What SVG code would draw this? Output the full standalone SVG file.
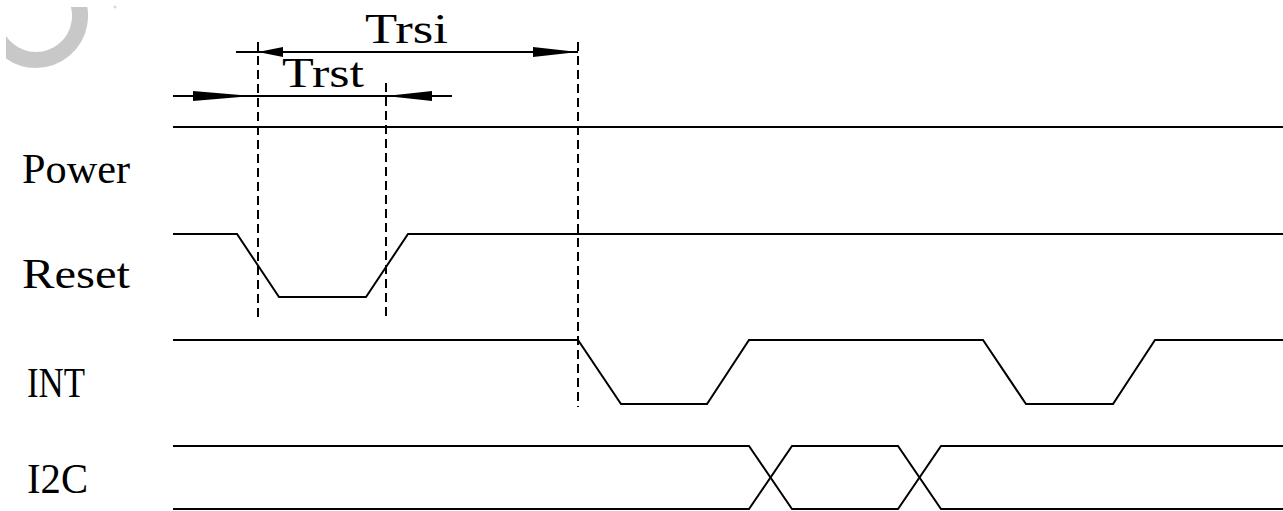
<svg xmlns="http://www.w3.org/2000/svg" width="1283" height="511" viewBox="0 0 1283 511">
<style>
.sig{fill:none;stroke:#000;stroke-width:2;stroke-linejoin:miter}
.dash{fill:none;stroke:#000;stroke-width:2;stroke-dasharray:9,5}
.dim{fill:none;stroke:#000;stroke-width:2}
.ah{fill:#000;stroke:none}
.lbl{font-family:"Liberation Serif","DejaVu Serif",serif;font-size:42px;fill:#000}
</style>
<defs>
<clipPath id="spinclip"><rect x="6" y="7" width="120" height="80"/></clipPath>
</defs>
<rect width="1283" height="511" fill="#fff"/>
<g id="spinner">
<path d="M 74.1 -6 A 44 44 0 1 1 -2.1 -6" fill="none" stroke="#c8c8c8" stroke-width="16" clip-path="url(#spinclip)"/>
<circle cx="115" cy="7" r="1.5" fill="#d8d8d8"/>
</g>
<g id="labels">
<text class="lbl" x="22" y="183" textLength="108" lengthAdjust="spacingAndGlyphs">Power</text>
<text class="lbl" x="22" y="288" textLength="108" lengthAdjust="spacingAndGlyphs">Reset</text>
<text class="lbl" x="27" y="397" textLength="58" lengthAdjust="spacingAndGlyphs">INT</text>
<text class="lbl" x="27" y="493" textLength="61" lengthAdjust="spacingAndGlyphs">I2C</text>
</g>
<g id="power"><path class="sig" d="M173 127 H1283"/></g>
<g id="reset"><path class="sig" d="M173 234 H237 L279 297 H366 L408 234 H1283"/></g>
<g id="int"><path class="sig" d="M173 340 H578 L621 404 H707 L749 340 H983 L1026 404 H1113 L1155 340 H1283"/></g>
<g id="i2c">
<path class="sig" d="M173 446 H749 L792 509 H898 L941 446 H1283"/>
<path class="sig" d="M173 509 H749 L792 446 H898 L941 509 H1283"/>
</g>
<g id="connectors">
<path class="dash" d="M258 42 V320"/>
<path class="dash" d="M386 83 V320"/>
<path class="dash" d="M578 42 V407"/>
<path class="dim" d="M236 52 H578"/>
<polygon class="ah" points="258,52 283,47 283,57"/>
<polygon class="ah" points="578,52 533,47 533,57"/>
<path class="dim" d="M173 96 H452"/>
<polygon class="ah" points="252,96 193,91 193,101"/>
<polygon class="ah" points="386,96 432,91 432,101"/>
</g>
<g id="dim-labels">
<text class="lbl" x="365" y="43" textLength="83" lengthAdjust="spacingAndGlyphs">Trsi</text>
<text class="lbl" x="282" y="87" textLength="82" lengthAdjust="spacingAndGlyphs">Trst</text>
</g>
</svg>
